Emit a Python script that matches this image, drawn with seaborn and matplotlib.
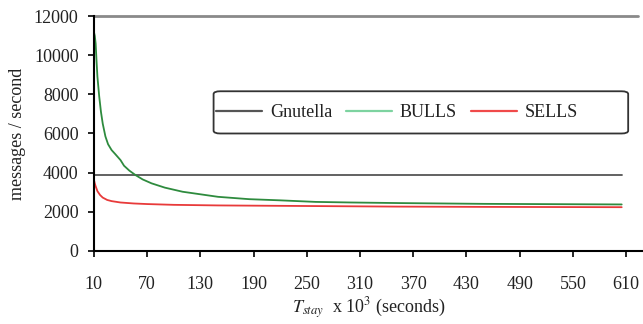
import matplotlib
matplotlib.use("Agg")
import matplotlib.pyplot as plt
from matplotlib.patches import FancyBboxPatch
import seaborn as sns
import pandas as pd

# values
gnutella_t = [10, 605]
gnutella_v = [3900, 3900]

bulls_t = [10, 11, 12, 13, 14, 16, 18, 20, 23, 26, 30, 34, 40, 44, 50, 57, 65,
           75, 90, 110, 150, 185, 220, 260, 300, 355, 450, 605]
bulls_v = [11200, 11000, 10600, 9700, 8900, 7900, 7100, 6500, 5850, 5450, 5150,
           4950, 4640, 4350, 4100, 3870, 3650, 3450, 3230, 3020, 2760, 2640, 2580,
           2500, 2470, 2440, 2400, 2370]

sells_t = [10, 11, 12, 14, 17, 20, 25, 30, 40, 55, 70, 100, 150, 250, 350, 450, 605]
sells_v = [3650, 3450, 3300, 3050, 2850, 2720, 2600, 2540, 2470, 2420, 2390, 2350,
           2320, 2290, 2260, 2245, 2230]

xticks = list(range(10, 611, 60))
yticks = list(range(0, 12001, 2000))

sns.set_style("white")
plt.rcParams["font.family"] = ["Liberation Serif", "DejaVu Serif"]
plt.rcParams["mathtext.fontset"] = "stix"
fs = 13

fig = plt.figure(figsize=(6.43, 3.24), dpi=100)
ax = fig.add_axes([0.146, 0.226, 0.854, 0.724])

series = [
    ("Gnutella", gnutella_t, gnutella_v, "#555555"),
    ("BULLS", bulls_t, bulls_v, "#2e8b3e"),
    ("SELLS", sells_t, sells_v, "#e83a3a"),
]
for name, t, v, c in series:
    df = pd.DataFrame({"t": t, "v": v})
    sns.lineplot(data=df, x="t", y="v", ax=ax, color=c, lw=1.3, label=name)

ax.set_xlim(10, 629)
ax.set_ylim(0, 12000)
ax.set_xticks(xticks)
ax.set_yticks(yticks)
ax.tick_params(axis="both", direction="out", length=4, width=1.2, color="black",
               labelsize=fs, bottom=True, left=True, labelcolor="#222222")
ax.tick_params(axis="x", pad=14)
ax.tick_params(axis="y", pad=7)
for s in ["top", "right"]:
    ax.spines[s].set_visible(False)
for s in ["left", "bottom"]:
    ax.spines[s].set_color("black")
    ax.spines[s].set_linewidth(1.5)
ax.axhline(12000, xmin=0, xmax=0.99, color="#8a8a8a", lw=2, clip_on=False)

ax.set_xlabel(r"$T_{stay}$  x 10$^3$ (seconds)", fontsize=fs, labelpad=2,
              color="#222222")
ax.set_ylabel("messages / second", fontsize=fs, labelpad=6, color="#222222")

# legend with a wide rounded frame, like the original
leg = ax.legend(loc="center left", bbox_to_anchor=(0.222, 0.59), ncol=3,
                frameon=False, fontsize=fs, handlelength=2.55, handletextpad=0.45,
                columnspacing=0.75, borderpad=0, borderaxespad=0)
for line, c in zip(leg.get_lines(), ["#555555", "#7dd3a0", "#f04a4a"]):
    line.set_color(c)
    line.set_linewidth(1.6)
for txt in leg.get_texts():
    txt.set_color("#222222")
box = FancyBboxPatch((0.218, 0.5), 0.755, 0.18, transform=ax.transAxes,
                     boxstyle="round,pad=0,rounding_size=0.012",
                     facecolor="white", edgecolor="#333333", lw=1.3, zorder=3)
ax.add_patch(box)
leg.set_zorder(4)

fig.savefig("out.png", dpi=100)
